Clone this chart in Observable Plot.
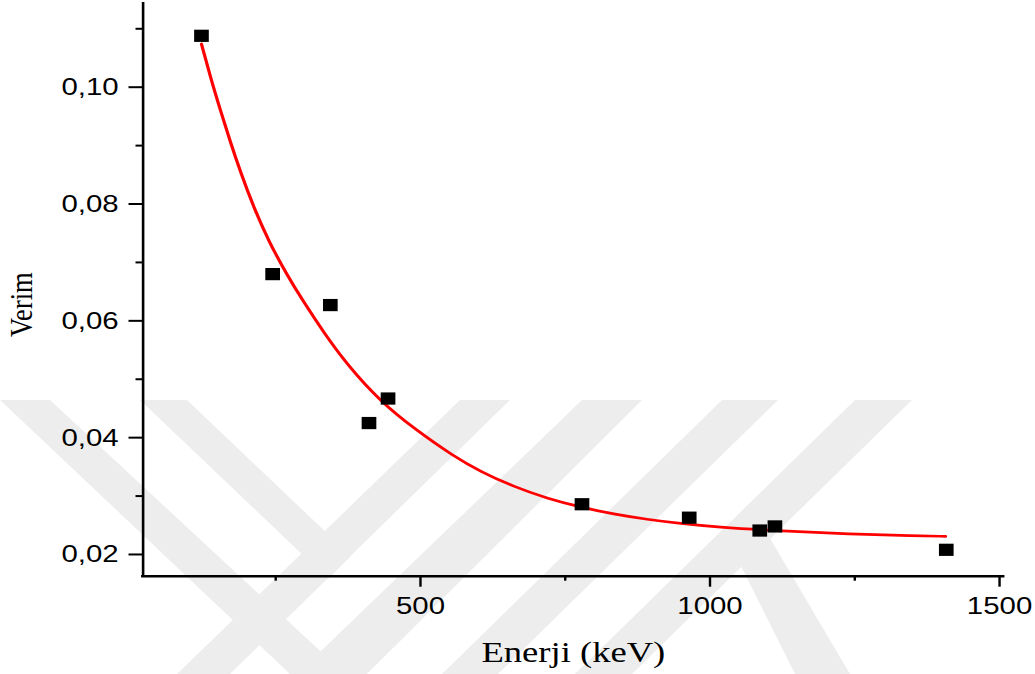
<!DOCTYPE html>
<html>
<head>
<meta charset="utf-8">
<script src="https://cdn.jsdelivr.net/npm/d3@7"></script>
<script src="https://cdn.jsdelivr.net/npm/@observablehq/plot@0.6"></script>
<style>
  html, body { margin: 0; padding: 0; background: #fff; }
  #wrap { position: relative; width: 1035px; height: 674px; overflow: hidden; }
  #wm { position: absolute; left: 0; top: 0; }
  #chart { position: absolute; left: 0; top: 0; }
</style>
</head>
<body>
<div id="wrap">
  <svg id="wm" width="1035" height="674" viewBox="0 0 1035 674">
    <g fill="#ededed">
      <polygon points="0,400 50,400 345,674 290,674"/>
      <polygon points="460,400 510,400 230,674 177,674"/>
      <polygon points="140,400 187,400 351,556 328,579"/>
      <polygon points="582,400 642,400 367,674 297,674"/>
      <polygon points="722,400 778,400 498,674 442,674"/>
      <polygon points="855,400 912,400 632,674 575,674"/>
      <polygon points="738,560 768,535 850,674 795,674"/>
    </g>
  </svg>
  <div id="chart"></div>
</div>
<script>
// measured data points (energy in keV, efficiency)
const energy = [121.8, 244.7, 344.3, 411.1, 444.0, 778.9, 964.1, 1085.9, 1112.1, 1408.0];
const efficiency = [0.1088, 0.0680, 0.0627, 0.0425, 0.0467, 0.0286, 0.0263, 0.0241, 0.0248, 0.0208];

// fitted curve
const fitEnergy = [121.8, 137.3, 154.6, 171.8, 189.1, 212.1, 238.0, 269.8, 298.4, 333.0, 373.4, 430.9, 488.4, 557.5, 603.6, 661.1, 718.8, 776.3, 833.9, 891.5, 949.1, 1009.5, 1124.7, 1239.7, 1354.9, 1406.7];
const fitEfficiency = [0.1074, 0.1017, 0.0960, 0.0906, 0.0855, 0.0794, 0.0736, 0.0678, 0.0632, 0.0580, 0.0525, 0.0462, 0.0416, 0.0368, 0.0342, 0.0316, 0.0296, 0.0281, 0.0269, 0.0260, 0.0253, 0.0247, 0.0240, 0.0235, 0.0232, 0.0231];

const yTicks = [0.02, 0.04, 0.06, 0.08, 0.10];
const yMinorTicks = [0.03, 0.05, 0.07, 0.09, 0.11];
const xTicks = [500, 1000, 1500];
const xMinorTicks = [250, 750, 1250];
const xLabel = "Enerji (keV)";
const yLabel = "Verim";

const points = energy.map((e, i) => ({x: e, y: efficiency[i]}));
const fit = fitEnergy.map((e, i) => ({x: e, y: fitEfficiency[i]}));

const S = 1.2;          // horizontal stretch of the original figure
const W = 1035 / S, H = 674;
const sans = "Liberation Sans, Arial, sans-serif";
const serif = "Liberation Serif, Times New Roman, serif";
const fmtY = d => d.toFixed(2).replace(".", ",");
const fmtX = d => String(d);

const chart = Plot.plot({
  width: W,
  height: H,
  marginLeft: 142.5 / S,
  marginRight: (1035 - 1003) / S,
  marginTop: 3,
  marginBottom: 674 - 575.7,
  style: {background: "transparent", fontFamily: sans, fontSize: "24px", color: "#000"},
  x: {domain: [21, 1507]},
  y: {domain: [0.01628, 0.11433]},
  marks: [
    Plot.axisY(yTicks, {tickSize: 14 / S, tickPadding: 10.5 / S, tickFormat: fmtY, label: null, strokeWidth: 2, fontSize: 24.5, fontFamily: sans, fill: "#000", stroke: "#000"}),
    Plot.axisY(yMinorTicks, {tickSize: 7 / S, tickFormat: () => "", label: null, strokeWidth: 2, stroke: "#000"}),
    Plot.axisX(xTicks, {tickSize: 11, tickPadding: 9, tickFormat: fmtX, label: null, strokeWidth: 2, fontSize: 24.5, fontFamily: sans, fill: "#000", stroke: "#000"}),
    Plot.axisX(xMinorTicks, {tickSize: 5, tickFormat: () => "", label: null, strokeWidth: 2, stroke: "#000"}),
    Plot.ruleX([21], {stroke: "#000", strokeWidth: 2.6 / S, strokeLinecap: "square"}),
    Plot.ruleY([0.01628], {stroke: "#000", strokeWidth: 2.4, strokeLinecap: "square"}),
    Plot.line(fit, {x: "x", y: "y", stroke: "#ff0000", strokeWidth: 2.7, curve: "basis"}),
    Plot.dot(points, {x: "x", y: "y", symbol: "square", r: 6.9, fill: "#000", stroke: "none"}),
    Plot.text([xLabel], {text: d => d, frameAnchor: "bottom", textAnchor: "middle", dy: 76.5, fontSize: 30.5, fontFamily: serif, lineAnchor: "middle", fill: "#000"}),
    Plot.text([yLabel], {text: d => d, frameAnchor: "left", textAnchor: "middle", rotate: -90, dx: 17.9 - 142.5 / S, dy: 14.85, fontSize: 26.5, fontFamily: serif, lineAnchor: "middle", fill: "#000"})
  ]
});

chart.setAttribute("width", 1035);
chart.setAttribute("height", 674);
chart.setAttribute("viewBox", `0 0 ${W} ${H}`);
chart.setAttribute("preserveAspectRatio", "none");
chart.style.width = "1035px";
chart.style.height = "674px";
chart.style.maxWidth = "none";
chart.style.background = "transparent";
document.getElementById("chart").appendChild(chart);
</script>
</body>
</html>
